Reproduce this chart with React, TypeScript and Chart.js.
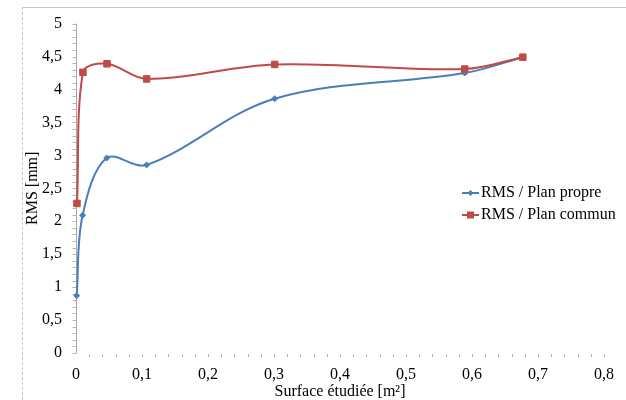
import React, { useEffect, useRef } from "react";
import { Chart, registerables } from "chart.js";

Chart.register(...registerables);

const seriesNames = ["RMS / Plan propre", "RMS / Plan commun"];
const propreX = [0.001, 0.01, 0.0465, 0.107, 0.301, 0.589, 0.677];
const propreY = [0.87, 2.09, 2.96, 2.855, 3.86, 4.25, 4.49];
const communX = [0.0015, 0.0105, 0.047, 0.107, 0.301, 0.589, 0.677];
const communY = [2.27, 4.26, 4.39, 4.16, 4.38, 4.31, 4.49];
const xTitle = "Surface étudiée [m²]";
const yTitle = "RMS [mm]";

const BLUE = "#4a7ebb";
const RED = "#be4b48";
const FONT = "'Liberation Serif', 'DejaVu Serif', serif";

const fmt = (v: number) => String(Number(v.toFixed(2))).replace(".", ",");

const decorPlugin = {
  id: "decor",
  beforeDraw(chart: any) {
    const ctx = chart.ctx;
    ctx.save();
    ctx.strokeStyle = "#c4c4c4";
    ctx.lineWidth = 1;
    ctx.beginPath();
    ctx.moveTo(22, 7.5);
    ctx.lineTo(626, 7.5);
    ctx.stroke();
    ctx.setLineDash([3, 2]);
    ctx.beginPath();
    ctx.moveTo(22.5, 7);
    ctx.lineTo(22.5, 400);
    ctx.stroke();
    ctx.restore();
  },
  beforeDatasetsDraw(chart: any) {
    const { ctx, chartArea, scales } = chart;
    const xs = scales.x;
    const ys = scales.y;
    ctx.save();
    ctx.lineWidth = 1;
    ctx.strokeStyle = "#a8a8a8";
    const left = Math.round(chartArea.left) + 0.5;
    ctx.beginPath();
    ctx.moveTo(left, chartArea.top);
    ctx.lineTo(left, chartArea.bottom);
    ctx.stroke();
    ctx.strokeStyle = "#b4b4b4";
    for (let k = 0; k <= 50; k++) {
      const y = Math.round(ys.getPixelForValue(k / 10)) + 0.5;
      ctx.beginPath();
      ctx.moveTo(left - 4, y);
      ctx.lineTo(left, y);
      ctx.stroke();
    }
    for (let k = 1; k <= 40; k++) {
      const x = Math.round(xs.getPixelForValue(k / 50)) + 0.5;
      ctx.beginPath();
      ctx.moveTo(x, chartArea.bottom + 1);
      ctx.lineTo(x, chartArea.bottom + 4);
      ctx.stroke();
    }
    ctx.restore();
  },
  afterDraw(chart: any) {
    const ctx = chart.ctx;
    const ds = chart.data.datasets;
    ctx.save();
    ds.forEach((d: any, i: number) => {
      const y = 193 + i * 22;
      const x0 = 462;
      const x1 = 479;
      ctx.strokeStyle = d.borderColor;
      ctx.lineWidth = 2;
      ctx.beginPath();
      ctx.moveTo(x0, y);
      ctx.lineTo(x1, y);
      ctx.stroke();
      const cx = (x0 + x1) / 2;
      ctx.fillStyle = d.backgroundColor;
      ctx.beginPath();
      if (d.pointStyle === "rect") {
        ctx.rect(cx - 3.5, y - 3.5, 7, 7);
      } else {
        ctx.moveTo(cx, y - 3);
        ctx.lineTo(cx + 3, y);
        ctx.lineTo(cx, y + 3);
        ctx.lineTo(cx - 3, y);
        ctx.closePath();
      }
      ctx.fill();
      ctx.fillStyle = "#000";
      ctx.font = `16px ${FONT}`;
      ctx.textBaseline = "middle";
      ctx.textAlign = "left";
      ctx.fillText(d.label, 481, y);
    });
    ctx.restore();
  },
};

export default function App() {
  const ref = useRef<HTMLCanvasElement | null>(null);
  useEffect(() => {
    if (!ref.current) return;
    const chart = new Chart(ref.current, {
      type: "line",
      data: {
        datasets: [
          {
            label: seriesNames[0],
            data: propreX.map((x, i) => ({ x, y: propreY[i] })),
            borderColor: BLUE,
            backgroundColor: BLUE,
            borderWidth: 2,
            pointStyle: "rectRot",
            pointRadius: 3,
            pointBorderWidth: 1,
            tension: 0.35,
            order: 1,
            clip: false as any,
          },
          {
            label: seriesNames[1],
            data: communX.map((x, i) => ({ x, y: communY[i] })),
            borderColor: RED,
            backgroundColor: RED,
            borderWidth: 2,
            pointStyle: "rect",
            pointRadius: 4.6,
            pointBorderWidth: 1,
            tension: 0.35,
            order: 0,
            clip: false as any,
          },
        ],
      },
      options: {
        animation: false,
        responsive: false,
        devicePixelRatio: 1,
        layout: { padding: { left: 0, right: 17, top: 18, bottom: 0 } },
        plugins: {
          legend: { display: false },
          tooltip: { enabled: false },
        },
        scales: {
          x: {
            type: "linear",
            min: 0,
            max: 0.8,
            grid: { display: false, drawTicks: false },
            border: { display: false },
            ticks: {
              stepSize: 0.1,
              padding: 12,
              color: "#000",
              font: { family: FONT, size: 16 },
              callback: (v: any) => fmt(Number(v)),
              maxRotation: 0,
            },
            title: {
              display: true,
              text: xTitle,
              color: "#000",
              font: { family: FONT, size: 16, lineHeight: 1 },
              padding: { top: 0, bottom: 0 },
            },
            afterFit: (s: any) => {
              s.height = 47;
            },
          },
          y: {
            type: "linear",
            min: 0,
            max: 5,
            grid: { display: false, drawTicks: false },
            border: { display: false },
            ticks: {
              stepSize: 0.5,
              padding: 14,
              color: "#000",
              font: { family: FONT, size: 16 },
              callback: (v: any) => fmt(Number(v)),
            },
            title: {
              display: true,
              text: yTitle,
              color: "#000",
              font: { family: FONT, size: 16, lineHeight: 1 },
              padding: { top: 25, bottom: 0 },
            },
            afterFit: (s: any) => {
              s.width = 76;
            },
          },
        },
      },
      plugins: [decorPlugin],
    });
    return () => chart.destroy();
  }, []);
  return (
    <div style={{ position: "absolute", left: 0, top: 0, width: 626, height: 400, background: "#fff" }}>
      <canvas ref={ref} width={626} height={400} style={{ display: "block" }} />
    </div>
  );
}
